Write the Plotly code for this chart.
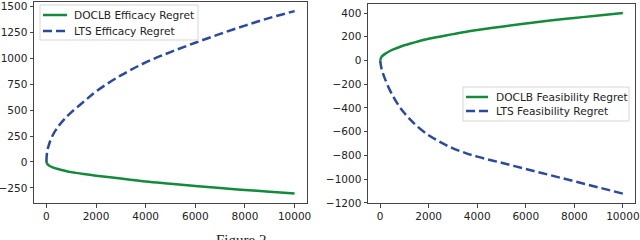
import plotly.graph_objects as go

t_eff = [0, 25, 100, 250, 500, 750, 1000, 1500, 2000, 3000, 4000, 5000, 6000, 7000, 8000, 9000, 10000]
doclb_eff = [0, -15, -35, -52, -70, -85, -98, -117, -133, -160, -188, -210, -232, -252, -270, -288, -305]
lts_eff = [0, 90, 165, 255, 350, 420, 478, 580, 680, 835, 960, 1060, 1150, 1235, 1315, 1390, 1455]

t_feas = [0, 50, 100, 200, 400, 600, 800, 1000, 1250, 1500, 2000, 2500, 3000, 3500, 4000, 5000, 6000, 7000, 8000, 9000, 10000]
doclb_feas = [0, 28, 40, 56, 80, 98, 114, 128, 143, 157, 183, 203, 222, 240, 256, 285, 312, 336, 358, 380, 400]
lts_feas = [0, -62, -98, -155, -250, -325, -390, -443, -500, -550, -630, -690, -740, -778, -810, -862, -914, -966, -1018, -1070, -1122]

x_ticks = [0, 2000, 4000, 6000, 8000, 10000]
x_ticklabels = ["0", "2000", "4000", "6000", "8000", "10000"]
y_ticks_left = [-250, 0, 250, 500, 750, 1000, 1250, 1500]
y_ticks_right = [-1200, -1000, -800, -600, -400, -200, 0, 200, 400]
y_ticklabels_right = ["\u22121200", "\u22121000", "\u2212800", "\u2212600", "\u2212400", "\u2212200", "0", "200", "400"]
y_ticklabels_left = ["\u2212250", "0", "250", "500", "750", "1000", "1250", "1500"]

legend_left = ["DOCLB Efficacy Regret", "LTS Efficacy Regret"]
legend_right = ["DOCLB Feasibility Regret", "LTS Feasibility Regret"]

GREEN = "#138a3c"
BLUE = "#2a4aa0"
FONT = "DejaVu Sans"
DASH = "9px,4px"

fig = go.Figure()
fig.add_trace(go.Scatter(x=t_eff, y=doclb_eff, mode="lines", name=legend_left[0],
                         line=dict(color=GREEN, width=2.5, shape="spline"), xaxis="x", yaxis="y"))
fig.add_trace(go.Scatter(x=t_eff, y=lts_eff, mode="lines", name=legend_left[1],
                         line=dict(color=BLUE, width=2.5, dash=DASH, shape="spline"), xaxis="x", yaxis="y"))
fig.add_trace(go.Scatter(x=t_feas, y=doclb_feas, mode="lines", name=legend_right[0],
                         line=dict(color=GREEN, width=2.5, shape="spline"), xaxis="x2", yaxis="y2"))
fig.add_trace(go.Scatter(x=t_feas, y=lts_feas, mode="lines", name=legend_right[1],
                         line=dict(color=BLUE, width=2.5, dash=DASH, shape="spline"), xaxis="x2", yaxis="y2"))

W, H = 640, 240
axis_common = dict(showgrid=False, zeroline=False, showline=True, linecolor="#444", linewidth=1,
                   mirror=True, ticks="outside", ticklen=3.5, tickcolor="#444", tickwidth=1,
                   tickfont=dict(family=FONT, size=10.5, color="#222"), automargin=False,
                   ticklabeloverflow="allow")

fig.update_layout(
    width=W, height=H,
    margin=dict(l=0, r=0, t=0, b=0),
    paper_bgcolor="white", plot_bgcolor="white",
    font=dict(family=FONT, size=11, color="#222"),
    showlegend=False,
    hovermode=False,
    xaxis=dict(domain=[34 / W, 307 / W], range=[-500, 10500], tickvals=x_ticks, ticktext=x_ticklabels,
               anchor="y", **axis_common),
    yaxis=dict(domain=[1 - 203 / H, 1 - 2 / H], range=[-396, 1543], tickvals=y_ticks_left,
               ticktext=y_ticklabels_left, anchor="x", **axis_common),
    xaxis2=dict(domain=[368 / W, 635 / W], range=[-500, 10500], tickvals=x_ticks, ticktext=x_ticklabels,
                anchor="y2", **axis_common),
    yaxis2=dict(domain=[1 - 203 / H, 1 - 4 / H], range=[-1201, 476], tickvals=y_ticks_right,
                ticktext=y_ticklabels_right, anchor="x2", **axis_common),
)


def px(x):
    return x / W


def py(y):
    return 1 - y / H


def add_legend(box, entries):
    x0, y0, x1, y1 = box
    fig.add_shape(type="rect", xref="paper", yref="paper", x0=px(x0), x1=px(x1), y0=py(y1), y1=py(y0),
                  line=dict(color="#d6d6d6", width=1), fillcolor="rgba(255,255,255,0.85)", layer="above")
    for label, color, dash, y, lx0, lx1, tx in entries:
        fig.add_shape(type="line", xref="paper", yref="paper", x0=px(lx0), x1=px(lx1), y0=py(y), y1=py(y),
                      line=dict(color=color, width=2.5, dash=dash), layer="above")
        fig.add_annotation(text=label, xref="paper", yref="paper", x=px(tx), y=py(y), xanchor="left",
                           yanchor="middle", showarrow=False, borderpad=0,
                           font=dict(family=FONT, size=10.6, color="#222"))


add_legend((40, 5, 198, 40), [
    (legend_left[0], GREEN, "solid", 15, 43, 67, 73),
    (legend_left[1], BLUE, DASH, 31, 43, 67, 73),
])
add_legend((463, 87, 629, 121), [
    (legend_right[0], GREEN, "solid", 97, 466, 488, 495),
    (legend_right[1], BLUE, DASH, 111, 466, 488, 495),
])

fig.add_annotation(text="Figure 2", xref="paper", yref="paper", x=px(215), y=py(231),
                   xanchor="left", yanchor="top", showarrow=False, borderpad=0,
                   font=dict(family="Liberation Serif", size=15, color="#222"))

fig.write_html("out.html", config={"displayModeBar": False, "staticPlot": True},
               post_script="document.body.style.margin='0';document.body.style.overflow='hidden';")
